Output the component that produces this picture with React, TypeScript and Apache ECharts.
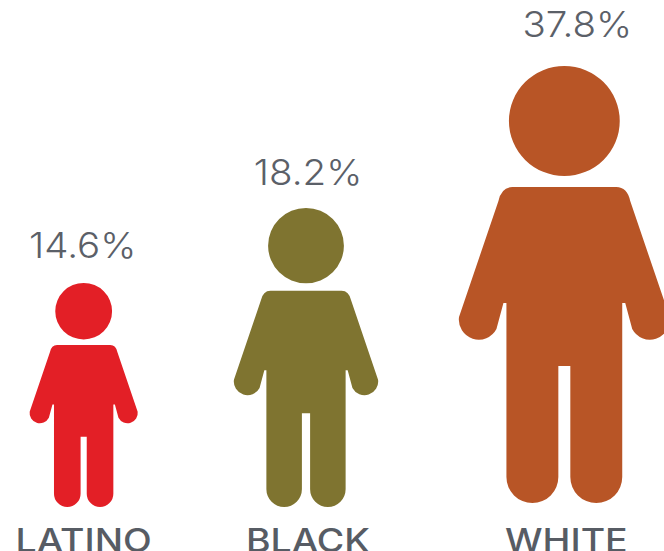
import React, { useEffect, useRef } from "react";
import * as echarts from "echarts";

const groups = ["LATINO", "BLACK", "WHITE"];
const rates = [14.6, 18.2, 37.8];
const colors = ["#E31F26", "#7F7430", "#B85526"];

// Person glyph: body outline plus head, scaled as one shape.
const PERSON_PATH =
  "M-52 121 L52 121 Q63 121 66 135 L105.5 251 A20 20 0 0 1 68 263 L61 237 L58 237 L58 411 " +
  "A26 26 0 0 1 6 411 L6 300 L-6 300 L-6 411 A26 26 0 0 1 -58 411 L-58 237 L-61 237 L-68 263 " +
  "A20 20 0 0 1 -105.5 251 L-66 135 Q-63 121 -52 121 Z " +
  "M-55.5 55 A55.5 55 0 1 1 55.5 55 A55.5 55 0 1 1 -55.5 55 Z";
const PERSON_ASPECT = 211 / 437;

// Figure height for a rate, in pixels; the drawing's sizing is not linear.
const STATURE_DOMAIN = [14.6, 18.2, 37.8];
const STATURE_RANGE = [224, 299, 437];
const statureFor = (rate: number) => {
  for (let i = 0; i < STATURE_DOMAIN.length - 1; i++) {
    if (rate <= STATURE_DOMAIN[i + 1]) {
      return echarts.number.linearMap(
        rate,
        [STATURE_DOMAIN[i], STATURE_DOMAIN[i + 1]],
        [STATURE_RANGE[i], STATURE_RANGE[i + 1]],
      );
    }
  }
  return STATURE_RANGE[STATURE_RANGE.length - 1];
};

// Per-figure placement tweaks relative to the evenly spaced category bands.
const figureShiftX = [-27, -26, 11];
const figureShiftY = [0, 0, -4];
const nameShiftX = [-27, -24, 13];
const rateShiftX = [-28, -24, 24];
const rateGap = [26, 24, 30];

const FONT_FAMILY = "Inter, 'Open Sans', sans-serif";

export default function App() {
  const ref = useRef<HTMLDivElement>(null);

  useEffect(() => {
    const chart = echarts.init(ref.current!, undefined, { renderer: "svg" });
    chart.setOption({
      animation: false,
      backgroundColor: "#ffffff",
      grid: { left: 0, right: 0, top: 0, bottom: 44 },
      xAxis: { type: "category", data: groups, show: false },
      yAxis: { type: "value", min: 0, max: 40, show: false },
      series: [
        {
          type: "custom",
          coordinateSystem: "cartesian2d",
          clip: false,
          data: rates.map((rate, i) => [i, rate]),
          encode: { x: 0, y: 1 },
          renderItem: (params: any, api: any) => {
            const i = api.value(0);
            const rate = api.value(1);
            const base = api.coord([i, 0]);
            const height = statureFor(rate);
            const width = height * PERSON_ASPECT;
            const cx = base[0] + figureShiftX[i];
            const bottom = base[1] + figureShiftY[i];
            const top = bottom - height;
            return {
              type: "group",
              children: [
                {
                  type: "path",
                  shape: {
                    pathData: PERSON_PATH,
                    layout: "cover",
                    x: cx - width / 2,
                    y: top,
                    width,
                    height,
                  },
                  style: { fill: colors[i] },
                },
                {
                  type: "text",
                  x: base[0] + rateShiftX[i],
                  y: top - rateGap[i] + 6,
                  scaleX: 1.07,
                  style: {
                    text: `${rate}%`,
                    x: 0,
                    y: 0,
                    align: "center",
                    verticalAlign: "bottom",
                    fill: "#5B6068",
                    font: `300 36px ${FONT_FAMILY}`,
                  },
                },
                {
                  type: "text",
                  x: base[0] + nameShiftX[i],
                  y: 556,
                  scaleX: 1.17,
                  style: {
                    text: groups[i],
                    x: 0,
                    y: 0,
                    align: "center",
                    verticalAlign: "bottom",
                    fill: "#575C64",
                    font: `500 32px ${FONT_FAMILY}`,
                  },
                },
              ],
            };
          },
        },
      ],
    });
    return () => chart.dispose();
  }, []);

  return (
    <div
      ref={ref}
      style={{ position: "absolute", left: 0, top: 0, width: 664, height: 551 }}
    />
  );
}
